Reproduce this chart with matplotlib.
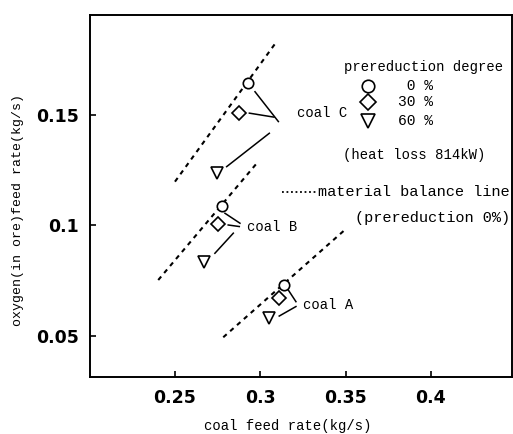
import matplotlib
matplotlib.use("Agg")
import matplotlib.pyplot as plt

# data (coal feed rate, oxygen feed rate) in kg/s
coal_names = ["coal C", "coal B", "coal A"]
# points for prereduction 0 %, 30 %, 60 %
coal_x = [[0.2930, 0.2875, 0.2748],
          [0.2774, 0.2750, 0.2670],
          [0.3139, 0.3110, 0.3051]]
oxy_y = [[0.1646, 0.1508, 0.1236],
         [0.1088, 0.1007, 0.0836],
         [0.0731, 0.0671, 0.0580]]
# material balance lines (prereduction 0 %)
bal_x = [[0.2500, 0.3096], [0.2402, 0.2988], [0.2783, 0.3506]]
bal_y = [[0.1198, 0.1832], [0.0753, 0.1289], [0.0494, 0.0987]]
# leader lines from points to the coal labels
lead_x = [[[0.2969, 0.3106], [0.2936, 0.3080], [0.2803, 0.3053]],
          [[0.2793, 0.2881], [0.2812, 0.2877], [0.2734, 0.2842]],
          [[0.3164, 0.3209], [0.3111, 0.3209]]]
lead_y = [[[0.1605, 0.1470], [0.1508, 0.1490], [0.1266, 0.1417]],
          [[0.1055, 0.1010], [0.1002, 0.0995], [0.0874, 0.0965]],
          [[0.0708, 0.0655], [0.0590, 0.0633]]]
label_pos = [(0.3213, 0.1508), (0.2920, 0.0992), (0.3252, 0.0640)]

degrees = [" 0 %", "30 %", "60 %"]
markers = ["o", "D", "v"]
msizes = [7.5, 7.0, 8.0]
xticks = [0.25, 0.3, 0.35, 0.4]
yticks = [0.05, 0.1, 0.15]

mono = "Liberation Mono"

fig = plt.figure(figsize=(5.13, 4.34), dpi=100)
ax = fig.add_axes([0.1754, 0.1302, 0.8226, 0.8352])

for k in range(3):
    ax.plot(bal_x[k], bal_y[k], color="black", lw=1.5, ls=(0, (2.2, 2.2)))
    for lx, ly in zip(lead_x[k], lead_y[k]):
        ax.plot(lx, ly, color="black", lw=1.1)
    for j in range(3):
        ax.plot(coal_x[k][j], oxy_y[k][j], marker=markers[j], ms=msizes[j],
                mfc="white", mec="black", mew=1.2, ls="none")
    ax.text(label_pos[k][0], label_pos[k][1], coal_names[k], family=mono,
            fontsize=10, va="center", ha="left")

# legend block
ax.text(0.3490, 0.1717, "prereduction degree", family=mono, fontsize=10,
        va="center", ha="left")
leg_y = [0.1633, 0.1557, 0.1474]
for j in range(3):
    ax.plot(0.3631, leg_y[j], marker=markers[j], ms=msizes[j] + 1.5,
            mfc="white", mec="black", mew=1.2, ls="none")
    ax.text(0.3807, leg_y[j], degrees[j], family=mono, fontsize=10.5,
            va="center", ha="left")
ax.text(0.3484, 0.1319, "(heat loss 814kW)", family=mono, fontsize=10,
        va="center", ha="left")
ax.plot([0.3127, 0.3330], [0.1152, 0.1152], color="black", lw=1.3,
        ls=(0, (1, 1.5)))
ax.text(0.4463, 0.1152, "material balance line", family=mono, fontsize=11,
        va="center", ha="right")
ax.text(0.4463, 0.1034, "(prereduction 0%)", family=mono, fontsize=11,
        va="center", ha="right")

ax.set_xlim(0.2002, 0.4475)
ax.set_ylim(0.0312, 0.1952)
ax.set_xticks(xticks)
ax.set_xticklabels([str(t) for t in xticks])
ax.set_yticks(yticks)
ax.set_yticklabels([str(t) for t in yticks])
ax.tick_params(direction="in", length=4, width=1.2, labelsize=12.5, pad=8)
for lab in ax.get_xticklabels() + ax.get_yticklabels():
    lab.set_fontweight("bold")
for s in ax.spines.values():
    s.set_linewidth(1.4)

fig.text(0.561, 0.018, "coal feed rate(kg/s)", family=mono, fontsize=10,
         ha="center", va="center")
fig.text(0.036, 0.516, "oxygen(in ore)feed rate(kg/s)", family=mono,
         fontsize=9.5, ha="center", va="center", rotation=90)

fig.savefig("out.png", dpi=100)
